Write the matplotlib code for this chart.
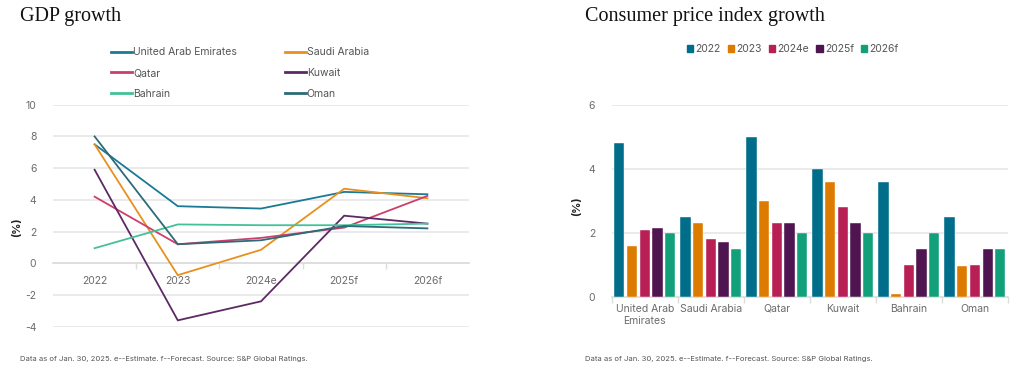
import matplotlib
matplotlib.use("Agg")
import matplotlib.pyplot as plt
import numpy as np
from matplotlib.lines import Line2D
from matplotlib.patches import Patch

# ---- data ----
gdp_years = ["2022", "2023", "2024e", "2025f", "2026f"]
gdp_countries = ["United Arab Emirates", "Saudi Arabia", "Qatar", "Kuwait", "Bahrain", "Oman"]
gdp_uae = [7.5, 3.6, 3.45, 4.5, 4.35]
gdp_saudi = [7.5, -0.75, 0.85, 4.7, 4.1]
gdp_qatar = [4.2, 1.2, 1.6, 2.25, 4.25]
gdp_kuwait = [5.9, -3.6, -2.4, 3.0, 2.5]
gdp_bahrain = [0.95, 2.45, 2.4, 2.4, 2.5]
gdp_oman = [8.0, 1.2, 1.45, 2.35, 2.2]

cpi_countries = ["United Arab\nEmirates", "Saudi Arabia", "Qatar", "Kuwait", "Bahrain", "Oman"]
cpi_years = ["2022", "2023", "2024e", "2025f", "2026f"]
cpi_2022 = [4.8, 2.5, 5.0, 4.0, 3.6, 2.5]
cpi_2023 = [1.6, 2.3, 3.0, 3.6, 0.1, 0.95]
cpi_2024e = [2.1, 1.8, 2.3, 2.8, 1.0, 1.0]
cpi_2025f = [2.15, 1.7, 2.3, 2.3, 1.5, 1.5]
cpi_2026f = [2.0, 1.5, 2.0, 2.0, 2.0, 1.5]

footnote = "Data as of Jan. 30, 2025. e--Estimate. f--Forecast. Source: S&P Global Ratings."

# ---- style ----
line_colors = ["#197a94", "#e8901e", "#cc3f6c", "#5b2a64", "#44c199", "#2c6b78"]
bar_colors = ["#006e8a", "#dd7a00", "#b81f55", "#4f1550", "#12a07a"]
tick_col = "#6b6b6b"
grid_col = "#e6e6e6"
sans = ["Inter", "DejaVu Sans"]
serif = ["Liberation Serif", "DejaVu Serif"]

fig = plt.figure(figsize=(10.24, 3.92), dpi=100)

# ---------------- left: GDP growth ----------------
ax1 = fig.add_axes([53/1024, (392-326.7)/392, 416/1024, 222/392])
x = np.arange(len(gdp_years))
series = [gdp_uae, gdp_saudi, gdp_qatar, gdp_kuwait, gdp_bahrain, gdp_oman]
handles = []
for vals, c, name in zip(series, line_colors, gdp_countries):
    ax1.plot(x, vals, color=c, lw=1.3, solid_joinstyle="miter", zorder=3)
    handles.append(Line2D([0], [0], color=c, lw=2))
ax1.set_xlim(-0.5, len(gdp_years) - 0.5)
ax1.set_ylim(-4, 10)
ax1.set_yticks(np.arange(-4, 11, 2))
ax1.set_yticklabels([str(v) for v in range(-4, 11, 2)], fontsize=7.5, color=tick_col, family=sans)
ax1.yaxis.grid(True, color=grid_col, lw=1.2)
ax1.set_axisbelow(True)
for s in ["top", "right", "left"]:
    ax1.spines[s].set_visible(False)
ax1.spines["bottom"].set_position(("data", 0))
ax1.spines["bottom"].set_color("#dcdcdc")
ax1.spines["bottom"].set_linewidth(1.2)
ax1.set_xticks(x)
ax1.set_xticklabels(gdp_years, fontsize=7.5, color=tick_col, family=sans)
ax1.tick_params(axis="x", which="major", length=0, pad=9)
ax1.set_xticks(np.arange(0.5, len(gdp_years) - 0.5, 1), minor=True)
ax1.tick_params(axis="x", which="minor", length=4, color="#dcdcdc", width=1)
ax1.tick_params(axis="y", length=0, pad=12)
ax1.set_ylabel("(%)", fontsize=8, fontweight="bold", color="#222222", family=sans, labelpad=4)
ax1.yaxis.set_label_coords(-0.075, 0.45)

# legend filled row by row (two columns)
order = [0, 2, 4, 1, 3, 5]
leg1 = fig.legend([handles[i] for i in order], [gdp_countries[i] for i in order],
                  ncol=2, loc="upper left",
                  bbox_to_anchor=(106/1024, 1 - 42/392), frameon=False,
                  prop={"family": sans, "size": 7.5}, handlelength=2.0,
                  handletextpad=0.1, columnspacing=4.6, labelspacing=1.05, borderpad=0)
for t in leg1.get_texts():
    t.set_color("#555555")

fig.text(20/1024, 1 - 17/392, "GDP growth", fontsize=14.5, family=serif, color="#111111", va="center")

# ---------------- right: CPI growth ----------------
ax2 = fig.add_axes([611.7/1024, (392-296.7)/392, 396.3/1024, 192/392])
gx = np.arange(len(cpi_countries))
bar_series = [cpi_2022, cpi_2023, cpi_2024e, cpi_2025f, cpi_2026f]
step = 0.192
width = 0.155
bh = []
for i, (vals, c) in enumerate(zip(bar_series, bar_colors)):
    ax2.bar(gx + (i - 2) * step, vals, width=width, color=c, zorder=3,
            edgecolor="white", linewidth=0.3)
    bh.append(Patch(color=c))
ax2.set_xlim(-0.5, len(cpi_countries) - 0.5)
ax2.set_ylim(0, 6)
ax2.set_yticks([0, 2, 4, 6])
ax2.set_yticklabels(["0", "2", "4", "6"], fontsize=7.5, color=tick_col, family=sans)
ax2.yaxis.grid(True, color=grid_col, lw=1.2)
ax2.set_axisbelow(True)
for s in ["top", "right", "left"]:
    ax2.spines[s].set_visible(False)
ax2.spines["bottom"].set_color("#dcdcdc")
ax2.spines["bottom"].set_linewidth(1.2)
ax2.set_xticks(gx)
ax2.set_xticklabels(cpi_countries, fontsize=7.5, color=tick_col, family=sans, linespacing=1.3)
ax2.tick_params(axis="x", which="major", length=0, pad=5)
ax2.set_xticks(np.arange(-0.5, len(cpi_countries), 1), minor=True)
ax2.tick_params(axis="x", which="minor", length=4, color="#dcdcdc", width=1)
ax2.tick_params(axis="y", length=0, pad=12)
ax2.set_ylabel("(%)", fontsize=8, fontweight="bold", color="#222222", family=sans)
ax2.yaxis.set_label_coords(-0.075, 0.47)

leg2 = fig.legend(bh, cpi_years, ncol=5, loc="center", bbox_to_anchor=(793/1024, 1 - 49/392),
                  frameon=False, prop={"family": sans, "size": 7.5},
                  handlelength=0.6, handleheight=0.6, handletextpad=0.2, columnspacing=0.7)
for t in leg2.get_texts():
    t.set_color("#555555")

fig.text(585/1024, 1 - 17/392, "Consumer price index growth", fontsize=14.5, family=serif,
         color="#111111", va="center")

fig.text(20/1024, 1 - 359/392, footnote, fontsize=5.5, color="#555555", family=sans, va="center")
fig.text(585/1024, 1 - 359/392, footnote, fontsize=5.5, color="#555555", family=sans, va="center")

fig.savefig("out.png", dpi=100, facecolor="white")
